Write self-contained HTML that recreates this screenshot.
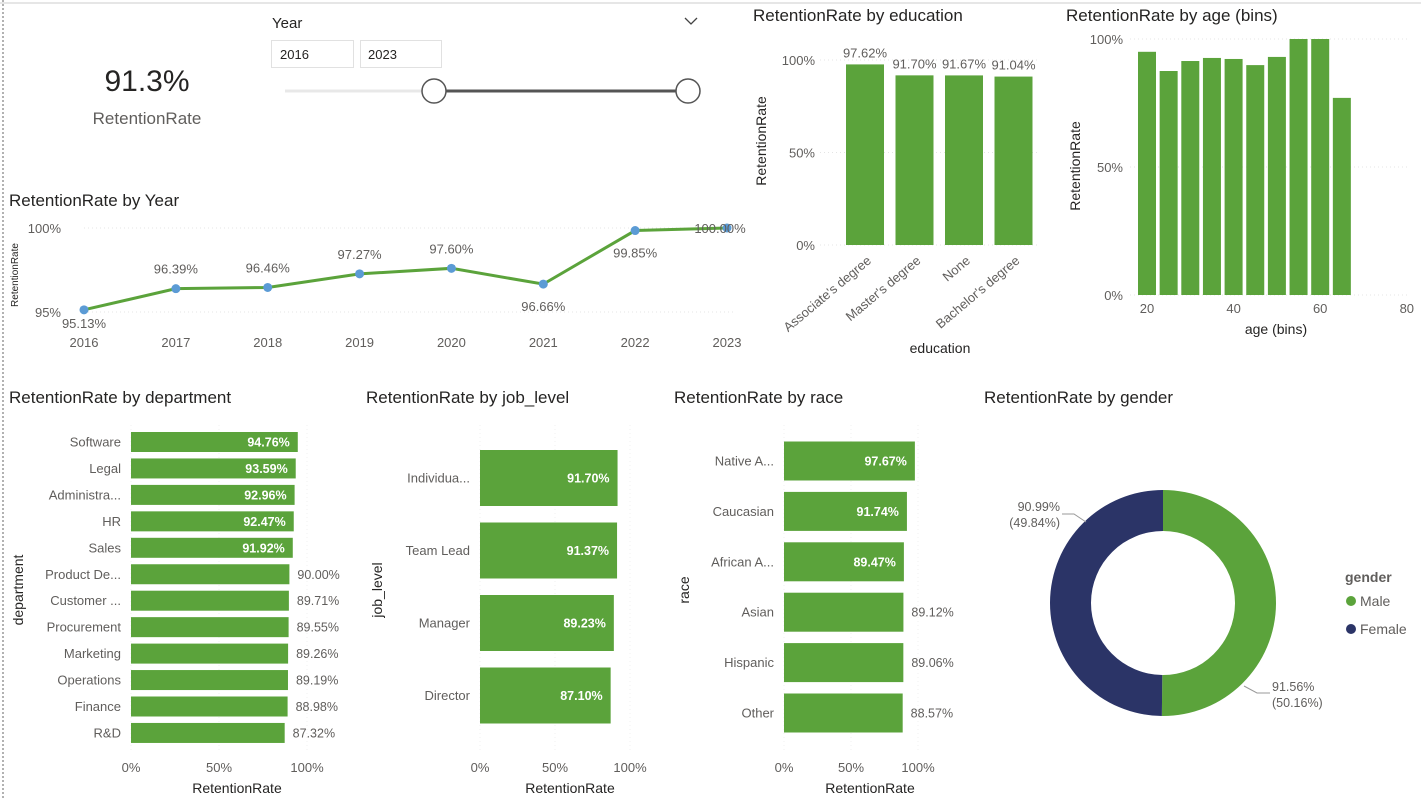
<!DOCTYPE html>
<html><head><meta charset="utf-8"><style>
body{margin:0;background:#fff;width:1421px;height:798px;overflow:hidden;font-family:"Liberation Sans",sans-serif}
svg text{font-family:"Liberation Sans",sans-serif}
</style></head><body>
<svg id="s" width="1421" height="798" viewBox="0 0 1421 798" xmlns="http://www.w3.org/2000/svg">
<line x1="0" y1="3" x2="1421" y2="3" stroke="#e6e6e6" stroke-width="2"/>
<line x1="3" y1="0" x2="3" y2="798" stroke="#666" stroke-dasharray="2,2"/>
<g>
<text x="147" y="91" font-size="30" fill="#252423" text-anchor="middle">91.3%</text>
<text x="147" y="124" font-size="17" fill="#605E5C" text-anchor="middle">RetentionRate</text>
</g>
<g>
<text x="272" y="28" font-size="15" fill="#252423">Year</text>
<path d="M685 18 l6 6 l6 -6" fill="none" stroke="#444" stroke-width="1.3"/>
<rect x="271.5" y="40.5" width="82" height="27" fill="#fff" stroke="#e1e1e1"/>
<text x="280" y="59" font-size="13" fill="#252423">2016</text>
<rect x="360.5" y="40.5" width="81" height="27" fill="#fff" stroke="#e1e1e1"/>
<text x="368" y="59" font-size="13" fill="#252423">2023</text>
<line x1="285" y1="91" x2="700" y2="91" stroke="#e8e8e8" stroke-width="3"/>
<line x1="434" y1="91" x2="688" y2="91" stroke="#555" stroke-width="3"/>
<circle cx="434" cy="91" r="12" fill="#fff" stroke="#555" stroke-width="1.5"/>
<circle cx="688" cy="91" r="12" fill="#fff" stroke="#555" stroke-width="1.5"/>
</g>
<g id="lineChart"></g>
<g id="eduChart"></g>
<g id="ageChart"></g>
<g id="deptChart"></g>
<g id="jobChart"></g>
<g id="raceChart"></g>
<g id="genderChart"></g>
</svg>
<script>
const years=[2016,2017,2018,2019,2020,2021,2022,2023];
const yearValues=[95.13,96.39,96.46,97.27,97.60,96.66,99.85,100.00];
const eduCats=["Associate's degree","Master's degree","None","Bachelor's degree"];
const eduValues=[97.62,91.70,91.67,91.04];
const ageBins=[20,25,30,35,40,45,50,55,60,65];
const ageValues=[95,87.5,91.4,92.6,92.2,89.8,93,100,100,77];
const deptCats=["Software","Legal","Administra...","HR","Sales","Product De...","Customer ...","Procurement","Marketing","Operations","Finance","R&D"];
const deptValues=[94.76,93.59,92.96,92.47,91.92,90.00,89.71,89.55,89.26,89.19,88.98,87.32];
const jobCats=["Individua...","Team Lead","Manager","Director"];
const jobValues=[91.70,91.37,89.23,87.10];
const raceCats=["Native A...","Caucasian","African A...","Asian","Hispanic","Other"];
const raceValues=[97.67,91.74,89.47,89.12,89.06,88.57];
const genderCats=["Male","Female"];
const genderRates=[91.56,90.99];
const genderShares=[50.16,49.84];
const pctTicks=[0,50,100];

const NS="http://www.w3.org/2000/svg";
const GREEN="#5BA33B";
function el(parent,tag,attrs,text){const e=document.createElementNS(NS,tag);for(const k in attrs)e.setAttribute(k,attrs[k]);if(text!==undefined)e.textContent=text;parent.appendChild(e);return e;}
function title(g,x,y,t){const e=el(g,'text',{x:x,y:y,'font-size':17,fill:'#252423'},t);

}

// Line chart
(function(){const g=document.getElementById('lineChart');
title(g,9,206,'RetentionRate by Year');
const x=i=>84+i*(727-84)/7, y=v=>312-(v-95)/5*84;
[[100,'100%'],[95,'95%']].forEach(([v,l])=>{
const gl=el(g,'line',{x1:84,x2:735,y1:y(v),y2:y(v),stroke:'#e4e4e4','stroke-dasharray':'1,3'});


const t=el(g,'text',{x:61,y:y(v)+5,'font-size':13,fill:'#605E5C','text-anchor':'end'},l);

});
const yt=el(g,'text',{transform:'translate(18,275) rotate(-90)','font-size':10,fill:'#252423','text-anchor':'middle'},'RetentionRate');


const pts=yearValues.map((v,i)=>x(i)+','+y(v)).join(' ');
const pl=el(g,'polyline',{points:pts,fill:'none',stroke:GREEN,'stroke-width':3});


years.forEach((yr,i)=>{
const t=el(g,'text',{x:x(i),y:347,'font-size':13,fill:'#605E5C','text-anchor':'middle'},yr);


const c=el(g,'circle',{cx:x(i),cy:y(yearValues[i]),r:4.5,fill:'#5B9BD5'});


const below=(i==0||i==5||i==6);
const ly=below?y(yearValues[i])+(i==0?18:27):y(yearValues[i])-15;
const d=el(g,'text',{x:x(i)-(i==7?7:0),y:i==7?233:ly,'font-size':13,fill:'#605E5C','text-anchor':'middle'},yearValues[i].toFixed(2)+'%');

});
})();

// Education
(function(){const g=document.getElementById('eduChart');
title(g,753,21,'RetentionRate by education');
const y=v=>245-v/100*185;
pctTicks.forEach(v=>{const gl=el(g,'line',{x1:820,x2:1040,y1:y(v),y2:y(v),stroke:'#e4e4e4','stroke-dasharray':'1,3'});


const t=el(g,'text',{x:815,y:y(v)+5,'font-size':13,fill:'#605E5C','text-anchor':'end'},v+'%');

});
const yt=el(g,'text',{transform:'translate(766,141) rotate(-90)','font-size':14,fill:'#252423','text-anchor':'middle'},'RetentionRate');


eduCats.forEach((c,i)=>{const cx=865+i*49.5,v=eduValues[i];
const r=el(g,'rect',{x:cx-19,y:y(v),width:38,height:y(0)-y(v),fill:GREEN});


const d=el(g,'text',{x:cx,y:y(v)-7,'font-size':13,fill:'#605E5C','text-anchor':'middle'},v.toFixed(2)+'%');


const t=el(g,'text',{transform:'translate('+(cx+7)+',262) rotate(-40)','font-size':13,fill:'#605E5C','text-anchor':'end'},c);

});
const xt=el(g,'text',{x:940,y:353,'font-size':14,fill:'#252423','text-anchor':'middle'},'education');


})();

// Age
(function(){const g=document.getElementById('ageChart');
title(g,1066,21,'RetentionRate by age (bins)');
const y=v=>295-v/100*256, x=a=>1147+(a-20)*4.33;
pctTicks.forEach(v=>{const gl=el(g,'line',{x1:1130,x2:1410,y1:y(v),y2:y(v),stroke:'#e4e4e4','stroke-dasharray':'1,3'});


const t=el(g,'text',{x:1123,y:y(v)+5,'font-size':13,fill:'#605E5C','text-anchor':'end'},v+'%');

});
const yt=el(g,'text',{transform:'translate(1080,166) rotate(-90)','font-size':14,fill:'#252423','text-anchor':'middle'},'RetentionRate');


ageBins.forEach((a,i)=>{const v=ageValues[i];
const r=el(g,'rect',{x:x(a)-9,y:y(v),width:18,height:y(0)-y(v),fill:GREEN});

});
[20,40,60,80].forEach(a=>{const t=el(g,'text',{x:x(a),y:313,'font-size':13,fill:'#605E5C','text-anchor':'middle'},a);

});
const xt=el(g,'text',{x:1276,y:334,'font-size':14,fill:'#252423','text-anchor':'middle'},'age (bins)');


})();

// Horizontal bar helper
function hbar(gid,tx,tt,cats,vals,x0,x100,y0,step,h,labX,insideN,axTitleX,axTitleName,axTitleY,xTitleX){
const g=document.getElementById(gid);title(g,tx,403,tt);
const x=v=>x0+v/100*(x100-x0);
pctTicks.forEach(v=>{const gl=el(g,'line',{x1:x(v),x2:x(v),y1:425,y2:750,stroke:'#f2f2f2','stroke-dasharray':'1,3'});


const t=el(g,'text',{x:x(v),y:772,'font-size':13,fill:'#605E5C','text-anchor':'middle'},v+'%');

});
cats.forEach((c,i)=>{const cy=y0+i*step,v=vals[i];
const r=el(g,'rect',{x:x0,y:cy-h/2,width:x(v)-x0,height:h,fill:GREEN});


const t=el(g,'text',{x:labX,y:cy+4.5,'font-size':13,fill:'#605E5C','text-anchor':'end'},c);


const inside=i<insideN;
const d=el(g,'text',{x:inside?x(v)-8:x(v)+8,y:cy+4.5,'font-size':12.5,fill:inside?'#fff':'#605E5C','font-weight':inside?'bold':'normal','text-anchor':inside?'end':'start'},v.toFixed(2)+'%');

});
const yt=el(g,'text',{transform:'translate('+axTitleX+',590) rotate(-90)','font-size':14,fill:'#252423','text-anchor':'middle'},axTitleName);


const xt=el(g,'text',{x:xTitleX,y:793,'font-size':14,fill:'#252423','text-anchor':'middle'},'RetentionRate');

}
hbar('deptChart',9,'RetentionRate by department',deptCats,deptValues,131,307,442,26.45,20,121,5,23,'department',0,237);
hbar('jobChart',366,'RetentionRate by job_level',jobCats,jobValues,480,630,478,72.5,56,470,4,382,'job_level',0,570);
hbar('raceChart',674,'RetentionRate by race',raceCats,raceValues,784,918,461,50.4,39,774,3,689,'race',0,870);

// Donut
(function(){const g=document.getElementById('genderChart');
title(g,984,403,'RetentionRate by gender');
const cx=1163,cy=603,R=113,r=72,colors=["#5BA33B","#2B3467"];
let a0=0;
genderShares.forEach((s,i)=>{const a1=a0+s/100*2*Math.PI;
const p=(ang,rad)=>[cx+rad*Math.sin(ang),cy-rad*Math.cos(ang)];
const [x1,y1]=p(a0,R),[x2,y2]=p(a1,R),[x3,y3]=p(a1,r),[x4,y4]=p(a0,r);
const lg=(a1-a0)>Math.PI?1:0;
const path=el(g,'path',{d:`M${x1},${y1} A${R},${R} 0 ${lg} 1 ${x2},${y2} L${x3},${y3} A${r},${r} 0 ${lg} 0 ${x4},${y4} Z`,fill:colors[i]});


a0=a1;});
const l1=el(g,'polyline',{points:'1244,686 1257,693 1270,693',fill:'none',stroke:'#999'});


const l2=el(g,'polyline',{points:'1086,522 1074,514 1062,514',fill:'none',stroke:'#999'});


[[1272,691,'start',0],[1060,511,'end',1]].forEach(([x,y,an,i])=>{
const t1=el(g,'text',{x:x,y:y,'font-size':12.5,fill:'#605E5C','text-anchor':an},genderRates[i].toFixed(2)+'%');


const t2=el(g,'text',{x:x,y:y+16,'font-size':12.5,fill:'#605E5C','text-anchor':an},'('+genderShares[i].toFixed(2)+'%)');

});
const lt=el(g,'text',{x:1345,y:582,'font-size':14,'font-weight':'bold',fill:'#605E5C'},'gender');


genderCats.forEach((c,i)=>{const yy=601+i*28;
const d=el(g,'circle',{cx:1351,cy:yy,r:5,fill:colors[i]});


const t=el(g,'text',{x:1360,y:yy+5,'font-size':14,fill:'#605E5C'},c);

});
})();
</script>
</body></html>
